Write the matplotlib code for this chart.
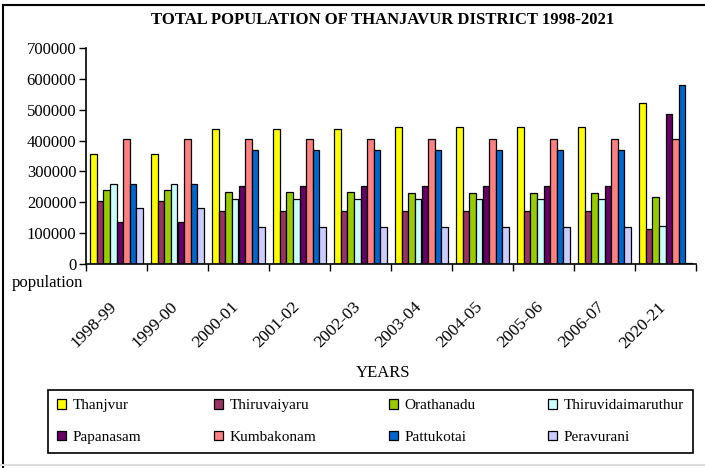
import numpy as np
import matplotlib
matplotlib.use("Agg")
from matplotlib import pyplot as plt
from matplotlib.lines import Line2D
from matplotlib.transforms import ScaledTranslation

plt.rcParams['font.family'] = 'serif'
plt.rcParams['font.serif'] = ['Liberation Serif', 'DejaVu Serif']

years = ["1998-99", "1999-00", "2000-01", "2001-02", "2002-03",
         "2003-04", "2004-05", "2005-06", "2006-07", "2020-21"]

thanjavur = [356000, 356000, 438000, 438000, 438000, 445000, 445000, 445000, 445000, 520000]
thiruvaiyaru = [205000, 205000, 172000, 172000, 172000, 172000, 172000, 172000, 172000, 113000]
orathanadu = [240000, 240000, 235000, 235000, 235000, 231000, 231000, 231000, 231000, 217000]
thiruvidaimaruthur = [260000, 260000, 211000, 211000, 211000, 211000, 211000, 211000, 211000, 125000]
papanasam = [137000, 137000, 253000, 253000, 253000, 253000, 253000, 253000, 253000, 486000]
kumbakonam = [404000, 404000, 404000, 404000, 404000, 404000, 404000, 404000, 404000, 404000]
pattukotai = [260000, 260000, 368000, 368000, 368000, 368000, 368000, 368000, 368000, 578000]
peravurani = [183000, 183000, 120000, 120000, 120000, 120000, 120000, 120000, 120000, 3000]

names = ["Thanjvur", "Thiruvaiyaru", "Orathanadu", "Thiruvidaimaruthur",
         "Papanasam", "Kumbakonam", "Pattukotai", "Peravurani"]
series = [thanjavur, thiruvaiyaru, orathanadu, thiruvidaimaruthur,
          papanasam, kumbakonam, pattukotai, peravurani]
colors = ["#FFFF00", "#993366", "#99CC00", "#CCFFFF",
          "#660066", "#FF8080", "#0066CC", "#CCCCFF"]

W, H = 705, 468
fig = plt.figure(figsize=(W / 100, H / 100), dpi=100)
ax = fig.add_axes([86 / W, 1 - 264.3 / H, 610 / W, 216.6 / H])

x = np.arange(len(years))
w = 0.108
handles = []
for i, (vals, c, n) in enumerate(zip(series, colors, names)):
    b = ax.bar(x + (i - 3.5) * w, vals, w, color=c, edgecolor="black",
               linewidth=0.9, label=n)
    handles.append(b)

ax.set_xlim(-0.5, len(years) - 0.5)
ax.set_ylim(0, 700000)
ax.set_yticks(np.arange(0, 700001, 100000))
ax.set_yticklabels([str(v) for v in range(0, 700001, 100000)], fontsize=12)
ax.tick_params(axis="y", direction="out", length=5, width=1, pad=2)

ax.set_xticks(x)
ax.set_xticklabels(years, rotation=45, ha="right", va="top",
                   rotation_mode="anchor", fontsize=12.5)
ax.tick_params(axis="x", which="major", length=0, pad=25)
shift = ScaledTranslation(-8 / 100, 0, fig.dpi_scale_trans)
for lab in ax.get_xticklabels():
    lab.set_transform(lab.get_transform() + shift)
ax.set_xticks(np.arange(-0.5, len(years)), minor=True)
ax.tick_params(axis="x", which="minor", direction="out", length=5, width=1)

for s in ["top", "right"]:
    ax.spines[s].set_visible(False)
for s in ["left", "bottom"]:
    ax.spines[s].set_linewidth(1.2)

fig.text(383 / W, 1 - 20 / H, "TOTAL POPULATION OF THANJAVUR DISTRICT 1998-2021",
         ha="center", va="center", fontsize=12, fontweight="bold")
fig.text(12 / W, 1 - 283 / H, "population", ha="left", va="center", fontsize=12)
fig.text(383 / W, 1 - 373 / H, "YEARS", ha="center", va="center", fontsize=12)

order = [0, 4, 1, 5, 2, 6, 3, 7]
leg = fig.legend([handles[k] for k in order], [names[k] for k in order],
                 loc="upper left", ncol=4, mode="expand",
                 bbox_to_anchor=(48 / W, 1 - 454 / H, 645 / W, 64 / H),
                 fancybox=False, edgecolor="black", framealpha=1,
                 fontsize=11, handlelength=0.6, handleheight=0.6,
                 handletextpad=0.4, borderaxespad=0, labelspacing=1.2,
                 borderpad=0.6)
leg.get_frame().set_linewidth(1.2)

# outer chart border
fig.add_artist(Line2D([3 / W, 3 / W], [0, 1 - 5 / H], color="black", linewidth=1.5))
fig.add_artist(Line2D([3 / W, 1], [1 - 5 / H, 1 - 5 / H], color="black", linewidth=1.5))
fig.add_artist(Line2D([0, 1], [1 - 465 / H, 1 - 465 / H], color="#dddddd", linewidth=1.5))

fig.savefig("out.png", dpi=100)
